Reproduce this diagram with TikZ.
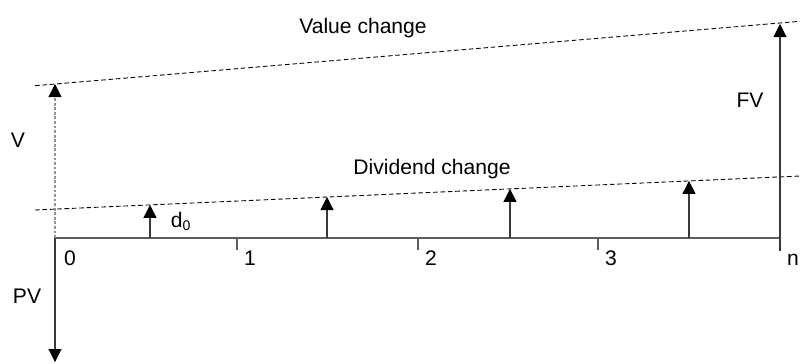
\documentclass[tikz,border=0pt]{standalone}
\usepackage{fontspec}
\setmainfont{Liberation Sans}
\usetikzlibrary{arrows.meta,calc}
\definecolor{ink}{HTML}{000000}
\definecolor{shaft}{HTML}{3A3A3A}
\definecolor{axisgray}{HTML}{5E5E5E}
\definecolor{dotgray}{HTML}{909090}

\begin{document}
\begin{tikzpicture}[x=0.02cm,y=-0.02cm,
    lbl/.style={inner sep=0pt, anchor=base, font=\fontsize{12}{14}\selectfont, text=ink},
    axis/.style={draw=axisgray, line width=0.6pt},
    flow/.style={draw=shaft, line width=0.6pt, -{Triangle[width=7.4pt,length=7.4pt,color=ink]}},
    dotflow/.style={flow, draw=dotgray, dash pattern=on 1.6pt off 1pt},
    trend/.style={draw=ink, line width=0.5pt, dash pattern=on 2.6pt off 1.6pt}]
  \useasboundingbox (0,0) rectangle (800,363);
  % time line
  \coordinate (o) at (55,238);
  \coordinate (n) at (780,238);
  \coordinate (nlow) at (780,251);
  \draw[axis] (o) -- (n);
  % trend lines
  \coordinate (vl) at (35,85.7);
  \coordinate (vr) at (800,21.3);
  \coordinate (dl) at (35,210);
  \coordinate (dr) at (800,176);
  \draw[trend] (vl) -- (vr);
  \draw[trend] (dl) -- (dr);
  % values
  \coordinate (v) at (55,84);
  \coordinate (pv) at (55,362);
  \coordinate (fv) at (780,24);
  \draw[dotflow] (o) -- (v);
  \draw[flow] (o) -- (pv);
  \draw[flow] (nlow) -- (fv);
  % dividends
  \foreach \px/\py [count=\i] in {150/204.9, 327/197, 510/188.9, 689/180.9} {
    \coordinate (b\i) at (\px,238);
    \coordinate (d\i) at (\px,\py);
    \draw[flow] (b\i) -- (d\i);
  }
  % periods
  \foreach \px/\t in {237/1, 418/2, 598/3} {
    \coordinate (p\t) at (\px,238);
    \coordinate (q\t) at (\px,250);
    \draw[axis] (p\t) -- (q\t);
    \node[lbl] (t\t) at (\px+13,265) {\t};
  }
  \node[lbl] (t0) at (70,265) {0};
  \node[lbl] (tn) at (793,265) {n};
  % labels
  \node[lbl] (valuechange) at (363,33) {Value change};
  \node[lbl] (divchange) at (432,174) {Dividend change};
  \node[lbl] (vlbl) at (18,147) {V};
  \node[lbl] (pvlbl) at (27,303) {PV};
  \node[lbl] (fvlbl) at (750,107) {FV};
  \node[lbl] (d0lbl) at (181,227) {d\textsubscript{0}};
\end{tikzpicture}
\end{document}
